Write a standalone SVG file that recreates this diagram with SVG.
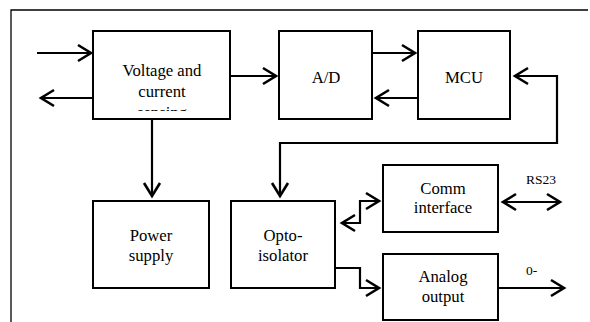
<svg xmlns="http://www.w3.org/2000/svg" width="590" height="322" viewBox="0 0 590 322">
<style>
.box{fill:#fff;stroke:#000;stroke-width:2}
.t{font-size:16.7px;text-anchor:middle;fill:#000}
.s{font-size:13.5px;text-anchor:start;fill:#000}
.c{fill:none;stroke:#000;stroke-width:2.2}
.frame{fill:none;stroke:#000;stroke-width:1.3}
</style>
<defs>
<marker id="a" markerUnits="userSpaceOnUse" markerWidth="20" markerHeight="20" viewBox="0 0 20 20" refX="15" refY="10" orient="auto-start-reverse">
<path d="M2,2 L15,10 L2,18" fill="none" stroke="#000" stroke-width="2.6"/>
</marker>
<clipPath id="vclip"><rect x="93" y="31" width="137" height="80"/></clipPath>
</defs>
<rect width="590" height="322" fill="#fff"/>
<path class="frame" d="M11,322 V10 H588"/>
<g id="connectors">
<path class="c" d="M37,53 H91" marker-end="url(#a)"/>
<path class="c" d="M93,98 H41" marker-end="url(#a)"/>
<path class="c" d="M230,76 H276" marker-end="url(#a)"/>
<path class="c" d="M372,53 H415" marker-end="url(#a)"/>
<path class="c" d="M418,98 H376" marker-end="url(#a)"/>
<path class="c" d="M515,76 H557 V143 H280 V196" marker-start="url(#a)" marker-end="url(#a)"/>
<path class="c" d="M152,119 V196" marker-end="url(#a)"/>
<path class="c" d="M342,223 H360 V201 H379" marker-start="url(#a)" marker-end="url(#a)"/>
<path class="c" d="M335,268 H360 V288 H379" marker-end="url(#a)"/>
<path class="c" d="M503,202 H560" marker-start="url(#a)" marker-end="url(#a)"/>
<path class="c" d="M498,288 H564" marker-end="url(#a)"/>
</g>
<g id="voltage">
<rect class="box" x="93" y="31" width="137" height="88"/>
<g clip-path="url(#vclip)">
<text class="t" font-family="Liberation Serif, serif" x="162" y="76">Voltage and</text>
<text class="t" font-family="Liberation Serif, serif" x="162" y="97">current</text>
<text class="t" font-family="Liberation Serif, serif" x="162" y="117.5">sensing</text>
</g>
</g>
<g id="ad">
<rect class="box" x="279" y="31" width="93" height="88"/>
<text class="t" font-family="Liberation Serif, serif" x="326" y="83">A/D</text>
</g>
<g id="mcu">
<rect class="box" x="418" y="31" width="92" height="88"/>
<text class="t" font-family="Liberation Serif, serif" x="464" y="83">MCU</text>
</g>
<g id="power">
<rect class="box" x="93" y="201" width="116" height="87"/>
<text class="t" font-family="Liberation Serif, serif" x="151" y="241">Power</text>
<text class="t" font-family="Liberation Serif, serif" x="151" y="261">supply</text>
</g>
<g id="opto">
<rect class="box" x="231" y="201" width="104" height="87"/>
<text class="t" font-family="Liberation Serif, serif" x="283" y="241">Opto-</text>
<text class="t" font-family="Liberation Serif, serif" x="283" y="261">isolator</text>
</g>
<g id="comm">
<rect class="box" x="383" y="165" width="115" height="67"/>
<text class="t" font-family="Liberation Serif, serif" x="443" y="194">Comm</text>
<text class="t" font-family="Liberation Serif, serif" x="443" y="213">interface</text>
</g>
<g id="analog">
<rect class="box" x="383" y="254" width="115" height="66"/>
<text class="t" font-family="Liberation Serif, serif" x="443" y="282">Analog</text>
<text class="t" font-family="Liberation Serif, serif" x="443" y="302">output</text>
</g>
<text class="s" font-family="Liberation Serif, serif" x="526" y="184">RS23</text>
<text class="s" font-family="Liberation Serif, serif" x="526" y="275">0-</text>
</svg>
